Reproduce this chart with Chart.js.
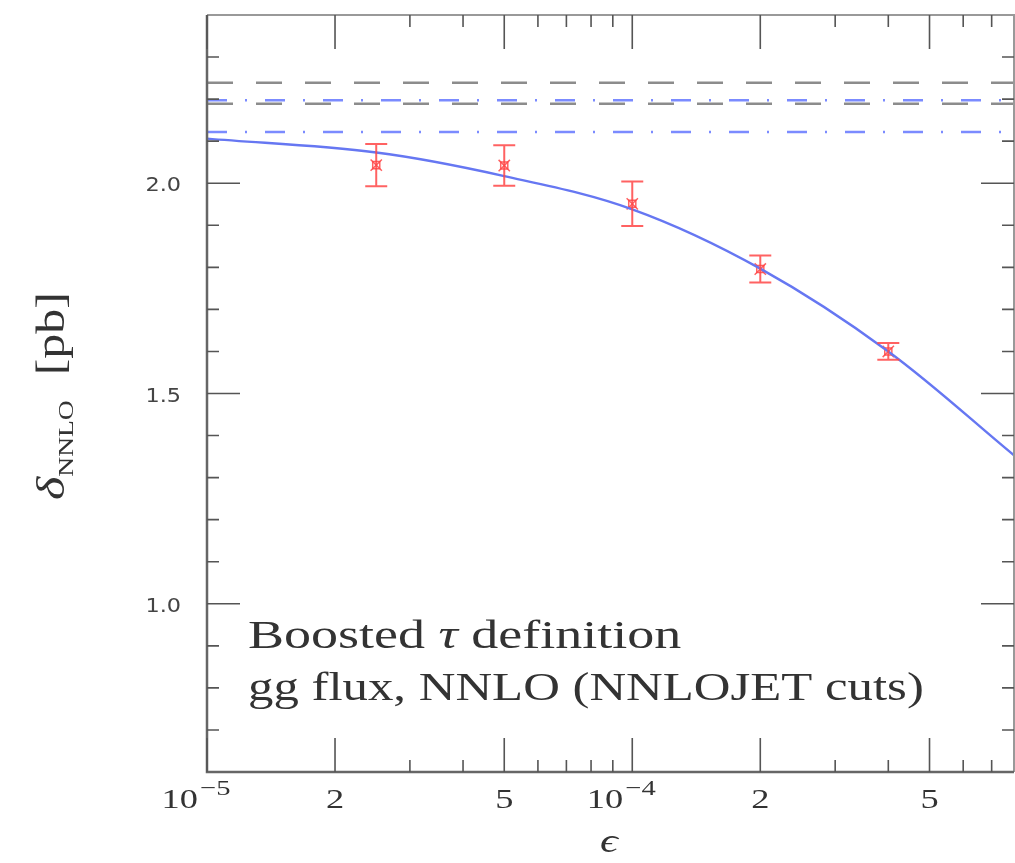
<!DOCTYPE html>
<html>
<head>
<meta charset="utf-8">
<script src="https://cdn.jsdelivr.net/npm/chart.js@4.4.1/dist/chart.umd.min.js"></script>
<style>
  html, body { margin: 0; padding: 0; background: #fff; overflow: hidden; }
  #wrap { width: 1015px; height: 863px; }
</style>
</head>
<body>
<div id="wrap"><canvas id="plot" width="1015" height="863"></canvas></div>
<script>
// MC points with their stat errors
const epsValues = [2.5e-5, 5e-5, 1e-4, 2e-4, 4e-4];
const deltaValues = [2.043, 2.042, 1.951, 1.796, 1.600];
const deltaErrors = [0.050, 0.048, 0.053, 0.032, 0.020];

const fitEps = [1e-5, 2.5e-5, 5e-5, 1e-4, 2e-4, 4e-4, 7.9e-4];
const fitDelta = [2.106, 2.073, 2.017, 1.938, 1.797, 1.600, 1.353];

// horizontal reference bands
const grayLevels = [2.239, 2.189];
const blueLevels = [2.197, 2.122];

const xRange = [1e-5, 7.9e-4];
const yRange = [0.6, 2.4];
const xMajorTicks = [1e-5, 2e-5, 5e-5, 1e-4, 2e-4, 5e-4];
const xTickLabels = [['10', '\u22125'], ['2'], ['5'], ['10', '\u22124'], ['2'], ['5']];
const xMinorTicks = [3e-5, 4e-5, 6e-5, 7e-5, 8e-5, 9e-5, 3e-4, 4e-4, 6e-4, 7e-4];
const yMajorTicks = [1.0, 1.5, 2.0];
const yTickLabels = ['1.0', '1.5', '2.0'];
const yMinorTicks = [0.7, 0.8, 0.9, 1.1, 1.2, 1.3, 1.4, 1.6, 1.7, 1.8, 1.9, 2.1, 2.2, 2.3];

const RED = 'rgba(255, 70, 70, 0.85)';
const SX = 1.3; // the original figure is stretched sideways

function wideText(ctx, parts, x, y, align, sx) {
    // parts: [text, font, dy]
    ctx.save();
    ctx.translate(x, y);
    ctx.scale(sx || SX, 1);
    let total = 0;
    parts.forEach(p => { ctx.font = p[1]; total += ctx.measureText(p[0]).width; });
    let cx = align === 'right' ? -total : (align === 'center' ? -total / 2 : 0);
    ctx.textAlign = 'left';
    parts.forEach(p => {
        ctx.font = p[1];
        ctx.fillText(p[0], cx, p[2] || 0);
        cx += ctx.measureText(p[0]).width;
    });
    ctx.restore();
}

const framePlugin = {
    id: 'frame',
    afterDatasetsDraw(chart) {
        const {ctx, chartArea: a, scales} = chart;
        const xs = scales.x, ys = scales.y;

        // error bars
        ctx.save();
        ctx.strokeStyle = RED;
        ctx.lineWidth = 2;
        epsValues.forEach((e, i) => {
            const px = xs.getPixelForValue(e);
            const top = ys.getPixelForValue(deltaValues[i] + deltaErrors[i]);
            const bot = ys.getPixelForValue(deltaValues[i] - deltaErrors[i]);
            ctx.beginPath();
            ctx.moveTo(px, top); ctx.lineTo(px, bot);
            ctx.moveTo(px - 11, top); ctx.lineTo(px + 11, top);
            ctx.moveTo(px - 11, bot); ctx.lineTo(px + 11, bot);
            ctx.stroke();
        });
        ctx.restore();

        // frame
        ctx.save();
        ctx.lineWidth = 2;
        ctx.strokeStyle = '#999';
        ctx.beginPath();
        ctx.moveTo(a.left, a.top); ctx.lineTo(a.right, a.top); ctx.lineTo(a.right, a.bottom);
        ctx.stroke();
        ctx.strokeStyle = '#666';
        ctx.lineWidth = 2.5;
        ctx.beginPath();
        ctx.moveTo(a.left, a.top); ctx.lineTo(a.left, a.bottom); ctx.lineTo(a.right, a.bottom);
        ctx.stroke();

        // inward ticks on all four sides
        ctx.strokeStyle = '#555';
        ctx.lineWidth = 1.6;
        const xTick = (v, len) => {
            const px = xs.getPixelForValue(v);
            ctx.beginPath();
            ctx.moveTo(px, a.bottom); ctx.lineTo(px, a.bottom - len);
            ctx.moveTo(px, a.top); ctx.lineTo(px, a.top + len);
            ctx.stroke();
        };
        const yTick = (v, len) => {
            const py = ys.getPixelForValue(v);
            ctx.beginPath();
            ctx.moveTo(a.left, py); ctx.lineTo(a.left + len, py);
            ctx.moveTo(a.right, py); ctx.lineTo(a.right - len, py);
            ctx.stroke();
        };
        xMajorTicks.forEach(v => xTick(v, 34));
        xMinorTicks.forEach(v => xTick(v, 12));
        yMajorTicks.forEach(v => yTick(v, 33));
        yMinorTicks.forEach(v => yTick(v, 12));

        // tick labels
        ctx.fillStyle = '#444';
        ctx.textBaseline = 'alphabetic';
        ctx.font = '21px "DejaVu Sans"';
        ctx.textAlign = 'right';
        yMajorTicks.forEach((v, i) => {
            const py = ys.getPixelForValue(v);
            wideText(ctx, [[yTickLabels[i], '20px "DejaVu Sans"']], 181, py + 8, 'right', 1.12);
        });
        ctx.textAlign = 'left';
        ctx.fillStyle = '#333';
        xMajorTicks.forEach((v, i) => {
            const px = xs.getPixelForValue(v);
            const lab = xTickLabels[i];
            if (lab.length === 1) {
                wideText(ctx, [[lab[0], '28px "Liberation Serif"']], px, 808, 'center');
            } else {
                wideText(ctx, [[lab[0], '28px "Liberation Serif"']], px - 9, 808, 'right');
                wideText(ctx, [[lab[1], '22px "Liberation Serif"']], px - 7, 795, 'left');
            }
        });

        // axis titles
        ctx.fillStyle = '#333';
        wideText(ctx, [['\u03f5', 'italic 34px "Liberation Serif"']], 609, 852, 'center');
        ctx.save();
        ctx.translate(64, 396);
        ctx.rotate(-Math.PI / 2);
        ctx.textAlign = 'left';
        const parts = [['\u03b4', 'italic 40px "Liberation Serif"', 0],
                       ['NNLO', '22px "Liberation Serif"', 9],
                       ['  [pb]', '40px "Liberation Serif"', 0]];
        ctx.scale(1.25, 1);
        let w = 0;
        parts.forEach(p => { ctx.font = p[1]; w += ctx.measureText(p[0]).width; });
        let cx = -w / 2;
        parts.forEach(p => {
            ctx.font = p[1];
            ctx.fillText(p[0], cx, p[2]);
            cx += ctx.measureText(p[0]).width;
        });
        ctx.restore();

        // annotation
        ctx.fillStyle = '#333';
        wideText(ctx, [['Boosted ', '40px "Liberation Serif"'],
                       ['\u03c4', 'italic 40px "Liberation Serif"'],
                       [' definition', '40px "Liberation Serif"']], 248, 648, 'left', 1.35);
        wideText(ctx, [['gg flux, NNLO (NNLOJET cuts)', '40px "Liberation Serif"']], 248, 700, 'left', 1.27);
        ctx.restore();
    }
};

const flatLine = v => [{x: xRange[0], y: v}, {x: xRange[1], y: v}];

const datasets = [];
grayLevels.forEach(v => datasets.push({
    data: flatLine(v), showLine: true, borderColor: '#8c8c8c', borderWidth: 2.5,
    borderDash: [26, 23], pointRadius: 0
}));
blueLevels.forEach(v => datasets.push({
    data: flatLine(v), showLine: true, borderColor: '#7b8bff', borderWidth: 2.5,
    borderDash: [20, 18, 2, 18], pointRadius: 0
}));
datasets.push({
    data: fitEps.map((e, i) => ({x: e, y: fitDelta[i]})),
    showLine: true, borderColor: '#6677f2', borderWidth: 2.4, pointRadius: 0,
    tension: 0.35
});
datasets.push({
    data: epsValues.map((e, i) => ({x: e, y: deltaValues[i]})),
    pointStyle: 'rect', pointRadius: 5, borderColor: RED, borderWidth: 1.5,
    backgroundColor: 'rgba(0,0,0,0)'
});
datasets.push({
    data: epsValues.map((e, i) => ({x: e, y: deltaValues[i]})),
    pointStyle: 'crossRot', pointRadius: 8, borderColor: RED, borderWidth: 1.5
});

new Chart(document.getElementById('plot'), {
    type: 'scatter',
    data: { datasets },
    options: {
        responsive: false,
        animation: false,
        devicePixelRatio: 1,
        layout: { autoPadding: false, padding: { left: 207, top: 15, right: 1, bottom: 91 } },
        scales: {
            x: { type: 'logarithmic', min: xRange[0], max: xRange[1], display: false },
            y: { type: 'linear', min: yRange[0], max: yRange[1], display: false }
        },
        plugins: { legend: { display: false }, tooltip: { enabled: false } }
    },
    plugins: [framePlugin]
});
</script>
</body>
</html>
